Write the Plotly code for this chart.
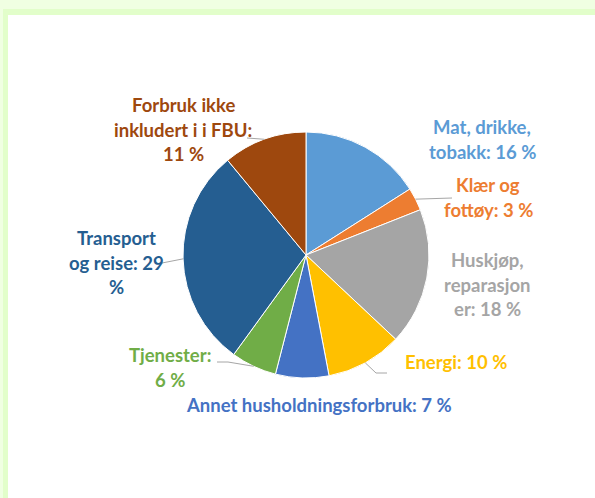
import math
import plotly.graph_objects as go

# ---- data ----
categories = [
    "Mat, drikke, tobakk",
    "Klær og fottøy",
    "Huskjøp, reparasjoner",
    "Energi",
    "Annet husholdningsforbruk",
    "Tjenester",
    "Transport og reise",
    "Forbruk ikke inkludert i i FBU",
]
values = [16, 3, 18, 10, 7, 6, 29, 11]
colors = ["#5B9BD5", "#ED7D31", "#A5A5A5", "#FFC000", "#4472C4", "#70AD47", "#255E91", "#9E480E"]

# ---- layout constants (pixels) ----
W, H = 595, 498
CX, CY, R = 306, 255, 123
LINE_STEP = 24.5
FONT = "Lato, 'Open Sans', sans-serif"
FSIZE = 18.5
OUTER = "#F0FFE2"
STRIPE = "#E2FECA"

# how each label wraps (character counts of the leading lines)
wraps = [[12], [7], [8, 10], [], [], [10], [9, 12], [12, 18]]
# label anchor (center x, first line y) in pixels
label_pos = [(482, 127), (488, 185), (487, 260), (456, 362), (319, 405),
             (170, 355), (116, 238), (183, 105)]
# leader line extra points (pixels) after the slice edge point; None = no leader
leaders = [None, [(452, 198)], None, [(376, 373), (387, 373)], None,
           [(228, 362), (217, 362)], [(162, 263)], [(247, 138)]]
text_colors = ["#5B9BD5", "#ED7D31", "#A5A5A5", "#FFC000", "#4472C4", "#70AD47", "#255E91", "#9E480E"]


def px(x):
    return x / W


def py(y):
    return 1 - y / H


def wrap(s, counts):
    out = []
    for c in counts:
        out.append(s[:c].strip())
        s = s[c:].lstrip()
    out.append(s)
    return out


def rect(x0, y0, x1, y1, color):
    return dict(type="rect", xref="paper", yref="paper", x0=px(x0), x1=px(x1), y0=py(y1), y1=py(y0),
                fillcolor=color, line=dict(width=0), layer="below")


fig = go.Figure()
fig.add_trace(go.Pie(
    labels=categories,
    values=values,
    sort=False,
    direction="clockwise",
    rotation=0,
    textinfo="none",
    marker=dict(colors=colors, line=dict(color="white", width=1)),
    domain=dict(x=[px(CX - R), px(CX + R)], y=[py(CY + R), py(CY - R)]),
    showlegend=False,
    hoverinfo="label+value",
))

shapes = [
    rect(0, 0, W, 9, OUTER),
    rect(0, 0, 3, H, OUTER),
    rect(3, 9, W, 15, STRIPE),
    rect(3, 9, 8, H, STRIPE),
]

annotations = []
total = sum(values)
cum = 0
for i, (cat, v) in enumerate(zip(categories, values)):
    mid = (cum + v / 2) / total * 2 * math.pi
    cum += v
    ex = CX + R * math.sin(mid)
    ey = CY - R * math.cos(mid)
    full = f"{cat}: {v} %"
    lines = wrap(full, wraps[i])
    lx, ly = label_pos[i]
    for k, line in enumerate(lines):
        annotations.append(dict(
            x=px(lx), y=py(ly + k * LINE_STEP), xref="paper", yref="paper",
            text=f"<b>{line}</b>", showarrow=False, xanchor="center", yanchor="middle",
            font=dict(family=FONT, size=FSIZE, color=text_colors[i]),
        ))
    if leaders[i]:
        pts = [(ex, ey)] + leaders[i]
        path = "M " + " L ".join(f"{px(a)},{py(b)}" for a, b in pts)
        shapes.append(dict(type="path", xref="paper", yref="paper", path=path,
                           line=dict(color="#A6A6A6", width=1)))

fig.update_layout(
    width=W, height=H,
    margin=dict(l=0, r=0, t=0, b=0),
    paper_bgcolor="#FFFFFF",
    plot_bgcolor="#FFFFFF",
    shapes=shapes,
    annotations=annotations,
)

fig.write_html(
    "out.html",
    config={"displayModeBar": False},
    post_script=(
        "document.body.style.margin='0';"
        "document.body.style.overflow='hidden';"
        "document.body.style.background='linear-gradient(#F0FFE2 0px, #F0FFE2 9px, #E2FECA 9px, #E2FECA 15px, #FFFFFF 15px)';"
    ),
)
